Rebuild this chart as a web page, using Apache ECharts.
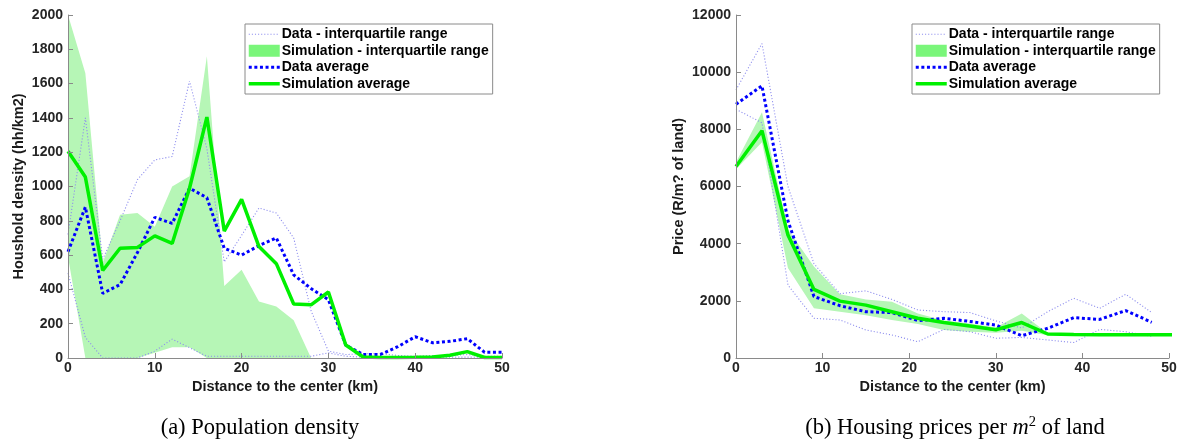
<!DOCTYPE html>
<html><head><meta charset="utf-8">
<script src="https://cdn.jsdelivr.net/npm/echarts@6/dist/echarts.min.js"></script>
<style>html,body{margin:0;padding:0;background:#fff}#c{width:1183px;height:446px}</style>
</head><body><div id="c"></div>
<script>
// ---------- (a) Population density ----------
const distDensity = [0,2,4,6,8,10,12,14,16,18,20,22,24,26,28,30,32,34,36,38,40,42,44,46,48,50];
const densityDataLow  = [495,120,0,0,0,40,110,60,10,10,10,10,10,10,10,30,10,5,5,5,5,5,5,5,5,5];
const densityDataHigh = [720,1400,575,800,1040,1155,1175,1615,1220,560,715,875,845,700,275,40,20,25,25,15,10,15,15,20,10,10];
const densitySimLow   = [590,0,0,0,0,30,62,62,0,0,0,0,0,0,0,0,0,0,0,0,0,0,0,0,0,0];
const densitySimHigh  = [2000,1660,555,835,845,765,1000,1060,1760,420,515,330,300,220,0,0,0,0,0,0,0,0,0,0,0,0];
const densityDataAvg  = [620,880,377,428,615,820,785,990,935,640,600,655,700,485,405,340,75,21,21,66,124,89,97,113,33,33];
const densitySimAvg   = [1205,1055,510,640,645,712,668,990,1405,740,925,650,550,315,310,385,76,6,3,3,4,6,16,37,3,3];

// ---------- (b) Housing prices ----------
const distPrice     = [0,3,6,9,12,15,18,21,24,27,30,33,36,39,42,45,48];
const priceDataAvg  = [8880,9520,4800,2150,1830,1620,1590,1310,1390,1280,1150,780,1040,1410,1350,1660,1250];
const priceDataHigh = [9380,11000,6000,3300,2250,2350,2050,1680,1620,1590,1300,1050,1620,2090,1740,2230,1590];
const priceDataLow  = [8700,8230,2550,1390,1330,980,805,570,1000,920,690,720,630,540,1000,920,760];
const distPriceSim  = [0,3,6,9,12,15,18,21,24,27,30,33,36,39,42,45,48,51];
const priceSimAvg   = [6700,7950,4300,2400,1990,1850,1620,1390,1240,1120,990,1240,840,820,815,815,815,815];
const priceSimHigh  = [6850,8600,4500,3200,2230,2050,1970,1560,1310,1210,1070,1560,870,840,835,835,835,835];
const priceSimLow   = [6600,7550,3150,1740,1620,1500,1330,1190,980,920,880,950,800,795,795,795,795,795];

// tick settings
const densityTicks = {min:0, max:2000, interval:200};
const priceTicks = {min:0, max:12000, interval:2000};
const distTicks = {min:0, max:50, interval:10};

const NAME_IQR = 'Data - interquartile range';
const NAME_BAND = 'Simulation - interquartile range';
const NAME_DAVG = 'Data average';
const NAME_SAVG = 'Simulation average';

const C_IQR = '#8e8eee';
const C_BLUE = '#0000ff';
const C_GREEN = '#00f000';
const C_BAND = 'rgb(182,246,182)';
const C_BAND_LEGEND = 'rgb(122,246,122)';
const C_AXIS = '#8a8a8a';
const C_TEXT = '#262626';
const FONT = 'Liberation Sans';

function pairs(xs, ys){ return xs.map((x,i)=>[x, ys[i]]); }
function triples(xs, lo, hi){ return xs.map((x,i)=>[x, lo[i], hi[i]]); }

function bandRender(params, api){
  if (params.dataIndexInside !== 0) return null;
  const n = params.dataInsideLength;
  const top = [], bottom = [];
  for (let i = 0; i < n; i++){
    top.push(api.coord([api.value(0,i), api.value(2,i)]));
    bottom.push(api.coord([api.value(0,i), api.value(1,i)]));
  }
  const cs = params.coordSys;
  return {
    type:'polygon',
    shape:{points: top.concat(bottom.reverse())},
    style:{fill: C_BAND},
    clipPath:{type:'rect', shape:{x:cs.x, y:cs.y, width:cs.width, height:cs.height}}
  };
}

function chartSeries(idx, xData, lo, hi, xSim, sLo, sHi, dAvg, sAvg){
  return [
    {type:'custom', name:NAME_BAND, xAxisIndex:idx, yAxisIndex:idx, renderItem:bandRender,
     itemStyle:{color:C_BAND_LEGEND}, encode:{x:0, y:[1,2]}, data:triples(xSim, sLo, sHi), silent:true},
    {type:'line', name:NAME_IQR, xAxisIndex:idx, yAxisIndex:idx, symbol:'none', silent:true,
     lineStyle:{color:C_IQR, width:1.1, type:[1.1,2]}, itemStyle:{color:C_IQR}, data:pairs(xData, hi)},
    {type:'line', name:NAME_IQR, xAxisIndex:idx, yAxisIndex:idx, symbol:'none', silent:true,
     lineStyle:{color:C_IQR, width:1.1, type:[1.1,2]}, itemStyle:{color:C_IQR}, data:pairs(xData, lo)},
    {type:'line', name:NAME_DAVG, xAxisIndex:idx, yAxisIndex:idx, symbol:'none', silent:true,
     lineStyle:{color:C_BLUE, width:3, type:[3,2.6]}, itemStyle:{color:C_BLUE}, data:pairs(xData, dAvg)},
    {type:'line', name:NAME_SAVG, xAxisIndex:idx, yAxisIndex:idx, symbol:'none', silent:true,
     lineStyle:{color:C_GREEN, width:3.5}, itemStyle:{color:C_GREEN}, data:pairs(xSim, sAvg)}
  ];
}

function legendAt(left){
  return {
    orient:'vertical', left:left, top:24, padding:[2,4,2,2], itemGap:0,
    itemWidth:31, itemHeight:12, backgroundColor:'#fff', borderColor:'#8a8a8a', borderWidth:1, borderRadius:0,
    selectedMode:false, itemStyle:{opacity:0},
    textStyle:{fontFamily:FONT, fontWeight:'bold', fontSize:14, color:'#000', lineHeight:16.5, padding:[0,0,0,-3]},
    data:[
      {name:NAME_IQR, lineStyle:{width:1.1}},
      {name:NAME_BAND, icon:'rect', itemStyle:{opacity:1, color:C_BAND_LEGEND}},
      {name:NAME_DAVG, lineStyle:{width:3}},
      {name:NAME_SAVG, lineStyle:{width:3.5}}
    ]
  };
}

const plainNumber = v => String(v);
const labelStyle = {color:C_TEXT, fontFamily:FONT, fontWeight:'bold', fontSize:14, formatter:plainNumber};
const nameStyle = {color:'#1a1a1a', fontFamily:FONT, fontWeight:'bold', fontSize:14.5};

function xAxisAt(idx){
  return Object.assign({type:'value', gridIndex:idx, z:5,
    axisLine:{show:true, onZero:false, lineStyle:{color:C_AXIS, width:1}},
    axisTick:{show:true, inside:true, length:5, lineStyle:{color:C_AXIS}},
    axisLabel:Object.assign({margin:3}, labelStyle),
    splitLine:{show:false},
    name:'Distance to the center (km)', nameLocation:'middle', nameGap:16, nameTextStyle:nameStyle
  }, distTicks);
}
function yAxisAt(idx, ticks, name, gap){
  return Object.assign({type:'value', gridIndex:idx, z:5,
    axisLine:{show:true, onZero:false, lineStyle:{color:C_AXIS, width:1}},
    axisTick:{show:true, inside:true, length:5, lineStyle:{color:C_AXIS}},
    axisLabel:Object.assign({margin:5}, labelStyle),
    splitLine:{show:false},
    name:name, nameLocation:'middle', nameGap:gap, nameTextStyle:nameStyle
  }, ticks);
}

const captionStyle = {fontFamily:'Liberation Serif', fontSize:22.5, fontWeight:'normal', color:'#000', lineHeight:27};

const option = {
  animation:false,
  backgroundColor:'#fff',
  title:[
    {text:'(a) Population density', left:260, top:428, textAlign:'center', textVerticalAlign:'middle', padding:0,
     textStyle:captionStyle},
    {text:'(b) Housing prices per {i|m}{s|2} of land', left:955, top:428, textAlign:'center', textVerticalAlign:'middle', padding:0,
     textStyle:Object.assign({}, captionStyle, {rich:{
       i:{fontFamily:'Liberation Serif', fontSize:22.5, fontStyle:'italic', color:'#000', lineHeight:27},
       s:{fontFamily:'Liberation Serif', fontSize:14.5, color:'#000', verticalAlign:'top', lineHeight:15}
     }})}
  ],
  legend:[legendAt(245), legendAt(912)],
  grid:[
    {left:68, top:15, width:434, height:343},
    {left:736, top:15, width:433, height:343}
  ],
  xAxis:[xAxisAt(0), xAxisAt(1)],
  yAxis:[
    yAxisAt(0, densityTicks, 'Houshold density (hh/km2)', 42),
    yAxisAt(1, priceTicks, 'Price (R/m? of land)', 50)
  ],
  series:[].concat(
    chartSeries(0, distDensity, densityDataLow, densityDataHigh, distDensity, densitySimLow, densitySimHigh, densityDataAvg, densitySimAvg),
    chartSeries(1, distPrice, priceDataLow, priceDataHigh, distPriceSim, priceSimLow, priceSimHigh, priceDataAvg, priceSimAvg)
  )
};

const chart = echarts.init(document.getElementById('c'), null, {renderer:'canvas'});
chart.setOption(option);
</script>
</body></html>
